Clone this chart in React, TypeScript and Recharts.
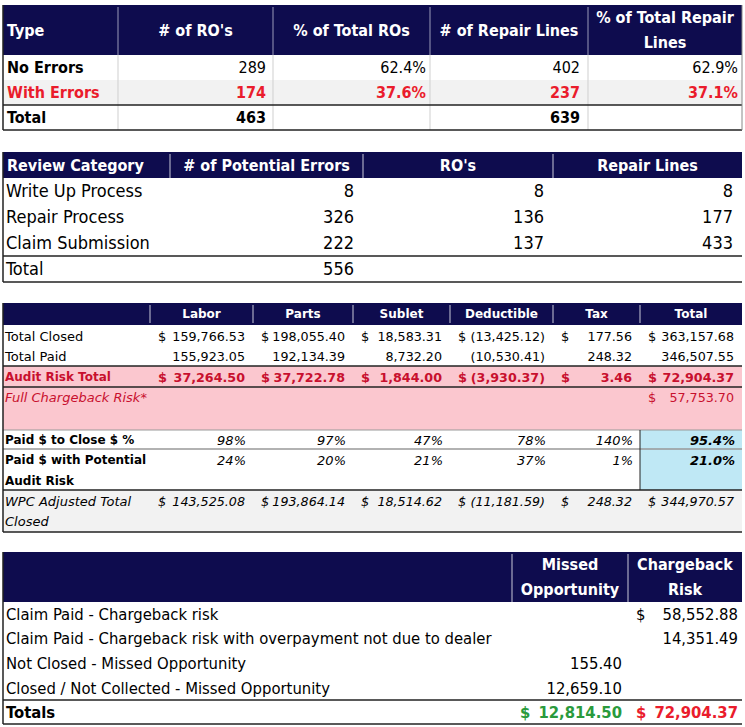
import React from 'react';
import { Surface, Text, Layer } from 'recharts';

// ---------- DATA ----------
// Table 1
const t1Headers = ['Type', "# of RO's", '% of Total ROs', '# of Repair Lines', '% of Total Repair Lines'];
const t1Types = ['No Errors', 'With Errors', 'Total'];
const t1ROs = ['289', '174', '463'];
const t1PctROs = ['62.4%', '37.6%', ''];
const t1Lines = ['402', '237', '639'];
const t1PctLines = ['62.9%', '37.1%', ''];

// Table 2
const t2Headers = ['Review Category', '# of Potential Errors', "RO's", 'Repair Lines'];
const t2Categories = ['Write Up Process', 'Repair Process', 'Claim Submission', 'Total'];
const t2PotentialErrors = ['8', '326', '222', '556'];
const t2ROs = ['8', '136', '137', ''];
const t2RepairLines = ['8', '177', '433', ''];

// Table 3
const t3Headers = ['', 'Labor', 'Parts', 'Sublet', 'Deductible', 'Tax', 'Total'];
const t3TotalClosed = [159766.53, 198055.4, 18583.31, -13425.12, 177.56, 363157.68];
const t3TotalPaid = [155923.05, 192134.39, 8732.2, -10530.41, 248.32, 346507.55];
const t3AuditRisk = [37264.5, 37722.78, 1844.0, -3930.37, 3.46, 72904.37];
const t3FullChargeback = 57753.7;
const t3PaidToClose = ['98%', '97%', '47%', '78%', '140%', '95.4%'];
const t3PaidWithRisk = ['24%', '20%', '21%', '37%', '1%', '21.0%'];
const t3WpcAdjusted = [143525.08, 193864.14, 18514.62, -11181.59, 248.32, 344970.57];

// Table 4
const t4Headers = ['', 'Missed Opportunity', 'Chargeback Risk'];
const t4Items = [
  'Claim Paid - Chargeback risk',
  'Claim Paid - Chargeback risk with overpayment not due to dealer',
  'Not Closed - Missed Opportunity',
  'Closed / Not Collected - Missed Opportunity',
];
const t4Missed = ['', '', '155.40', '12,659.10'];
const t4Chargeback = ['$ 58,552.88', '14,351.49', '', ''];
const t4TotalMissed = 12814.5;
const t4TotalChargeback = 72904.37;

// ---------- STYLE ----------
const NAVY = '#0e0c4e';
const RED1 = '#ea1c2c';
const RED3 = '#c8102e';
const PINK = '#fbc7cf';
const BLUE = '#bfe8f5';
const GRAY = '#f2f2f2';
const GREEN = '#2a9a3c';
const LINE = '#222';
const LIGHT = '#cfcfcf';
const FC = "'DejaVu Sans Condensed', 'DejaVu Sans', sans-serif";
const FW = "'DejaVu Sans', sans-serif";

const fmtMoney = (n: number) => {
  const s = Math.abs(n).toLocaleString('en-US', { minimumFractionDigits: 2, maximumFractionDigits: 2 });
  return n < 0 ? `(${s})` : s;
};

type LblProps = {
  x: number; y: number; lines: string[]; anchor?: 'start' | 'middle' | 'end';
  size?: number; bold?: boolean; italic?: boolean; color?: string; family?: string; lh?: number;
};
const Lbl = ({ x, y, lines, anchor = 'start', size = 16, bold = false, italic = false, color = '#000', family = FC, lh = 25 }: LblProps) => (
  <Layer>
    {lines.map((l, i) => (
      <Text
        key={i}
        x={x}
        y={y + (i - (lines.length - 1) / 2) * lh}
        textAnchor={anchor}
        verticalAnchor="middle"
        fontSize={size}
        fontWeight={bold ? 'bold' : 'normal'}
        fontStyle={italic ? 'italic' : 'normal'}
        fill={color}
        fontFamily={family}
      >
        {l}
      </Text>
    ))}
  </Layer>
);

const HLine = ({ x1, x2, y, color = LINE, w = 1.5 }: any) => (
  <line x1={x1} x2={x2} y1={y} y2={y} stroke={color} strokeWidth={w} />
);
const VLine = ({ x, y1, y2, color = LINE, w = 1 }: any) => (
  <line x1={x} x2={x} y1={y1} y2={y2} stroke={color} strokeWidth={w} />
);

// ---------- TABLE 1 ----------
const Table1 = () => {
  const X = [3, 118, 273, 430, 588, 742];
  const top = 5, hb = 55;
  const R = [55, 80, 105, 130];
  const cols = [t1ROs, t1PctROs, t1Lines, t1PctLines];
  const pads = [7, 4, 8, 4];
  return (
    <Layer>
      <rect x={X[0]} y={top} width={X[5] - X[0]} height={hb - top} fill={NAVY} />
      <rect x={X[0]} y={R[1]} width={X[5] - X[0]} height={R[2] - R[1]} fill={GRAY} />
      {X.slice(1, 5).map((x, i) => <VLine key={'h' + i} x={x} y1={top + 2} y2={hb} color="#9a9ab8" />)}
      {X.slice(1, 5).map((x, i) => <VLine key={'b' + i} x={x} y1={hb} y2={R[3]} color={LIGHT} />)}
      <Lbl x={X[0] + 4} y={30} lines={[t1Headers[0]]} bold color="#fff" />
      <Lbl x={(X[1] + X[2]) / 2} y={30} lines={[t1Headers[1]]} anchor="middle" bold color="#fff" />
      <Lbl x={(X[2] + X[3]) / 2} y={30} lines={[t1Headers[2]]} anchor="middle" bold color="#fff" />
      <Lbl x={(X[3] + X[4]) / 2} y={30} lines={[t1Headers[3]]} anchor="middle" bold color="#fff" />
      <Lbl x={(X[4] + X[5]) / 2} y={30} lines={['% of Total Repair', 'Lines']} anchor="middle" bold color="#fff" />
      {t1Types.map((t, r) => {
        const yc = (R[r] + R[r + 1]) / 2;
        const red = r === 1;
        const boldVals = r > 0;
        return (
          <Layer key={t}>
            <Lbl x={X[0] + 4} y={yc} lines={[t]} bold color={red ? RED1 : '#000'} />
            {cols.map((c, ci) => (
              <Lbl key={ci} x={X[ci + 2] - pads[ci]} y={yc} lines={[c[r]]} anchor="end" bold={boldVals} color={red ? RED1 : '#000'} />
            ))}
          </Layer>
        );
      })}
      <HLine x1={X[0]} x2={X[5]} y={R[2]} w={1.5} />
      <HLine x1={X[0]} x2={X[5]} y={R[3]} w={1.5} />
      <VLine x={X[0]} y1={top} y2={R[3]} w={1.5} />
      <VLine x={X[5]} y1={top} y2={R[3]} color="#888" />
    </Layer>
  );
};

// ---------- TABLE 2 ----------
const Table2 = () => {
  const X = [3, 170, 363, 553, 742];
  const top = 152, hb = 178;
  const R = [178, 204, 230, 256, 282];
  const cols = [t2PotentialErrors, t2ROs, t2RepairLines];
  return (
    <Layer>
      <rect x={X[0]} y={top} width={X[4] - X[0]} height={hb - top} fill={NAVY} />
      {X.slice(1, 4).map((x, i) => <VLine key={i} x={x} y1={top + 2} y2={hb} color="#c8c8d8" />)}
      <Lbl x={X[0] + 4} y={165} lines={[t2Headers[0]]} bold color="#fff" />
      {[1, 2, 3].map((i) => (
        <Lbl key={i} x={(X[i] + X[i + 1]) / 2} y={165} lines={[t2Headers[i]]} anchor="middle" bold color="#fff" />
      ))}
      {t2Categories.map((c, r) => {
        const yc = (R[r] + R[r + 1]) / 2;
        return (
          <Layer key={c}>
            <Lbl x={X[0] + 3} y={yc} lines={[c]} size={18} />
            {cols.map((col, ci) => (
              <Lbl key={ci} x={X[ci + 2] - 9} y={yc} lines={[col[r]]} anchor="end" size={18} />
            ))}
          </Layer>
        );
      })}
      <HLine x1={X[0]} x2={X[4]} y={R[3]} w={1.5} />
      <HLine x1={X[0]} x2={X[4]} y={R[4]} w={1.5} />
      <VLine x={X[0]} y1={top} y2={R[4]} w={1.5} />
    </Layer>
  );
};

// ---------- TABLE 3 ----------
const Table3 = () => {
  const X = [3, 150, 253, 353, 450, 553, 640, 742];
  const top = 303, hb = 325;
  const yTC = 336, yTP = 356, yAR = 377, yFC = 397, yPC = 440, yPR = 460, yW = 501;
  const moneyRow = (vals: number[], y: number, opts: { dollar: boolean; bold?: boolean; italic?: boolean; color?: string }) =>
    vals.map((v, i) => (
      <Layer key={i}>
        {opts.dollar && (
          <Lbl x={X[i + 1] + 8} y={y} lines={['$']} size={13} bold={opts.bold} italic={opts.italic} color={opts.color} family={FW} />
        )}
        <Lbl x={X[i + 2] - 8} y={y} lines={[fmtMoney(v)]} anchor="end" size={12.7} bold={opts.bold} italic={opts.italic} color={opts.color} family={FW} />
      </Layer>
    ));
  return (
    <Layer>
      <rect x={X[0]} y={top} width={X[7] - X[0]} height={hb - top} fill={NAVY} />
      <rect x={X[0]} y={366} width={X[7] - X[0]} height={430 - 366} fill={PINK} />
      <rect x={X[6]} y={430} width={X[7] - X[6]} height={490 - 430} fill={BLUE} />
      <rect x={X[0]} y={490} width={X[7] - X[0]} height={532 - 490} fill={GRAY} />
      {X.slice(1, 7).map((x, i) => <VLine key={i} x={x} y1={top + 2} y2={hb - 2} color="#c8c8d8" />)}
      {t3Headers.slice(1).map((h, i) => (
        <Lbl key={h} x={(X[i + 1] + X[i + 2]) / 2} y={314} lines={[h]} anchor="middle" size={12} bold color="#fff" family={FW} />
      ))}
      <Lbl x={X[0] + 2} y={yTC} lines={['Total Closed']} size={13} family={FW} />
      {moneyRow(t3TotalClosed, yTC, { dollar: true })}
      <Lbl x={X[0] + 2} y={yTP} lines={['Total Paid']} size={13} family={FW} />
      {moneyRow(t3TotalPaid, yTP, { dollar: false })}
      <Lbl x={X[0] + 2} y={yAR} lines={['Audit Risk Total']} size={12} bold color={RED3} family={FW} />
      {moneyRow(t3AuditRisk, yAR, { dollar: true, bold: true, color: RED3 })}
      <Lbl x={X[0] + 2} y={yFC} lines={['Full Chargeback Risk*']} size={13} italic color={RED3} family={FW} />
      <Lbl x={X[6] + 8} y={yFC} lines={['$']} size={13} color={RED3} family={FW} />
      <Lbl x={X[7] - 8} y={yFC} lines={[fmtMoney(t3FullChargeback)]} anchor="end" size={12.7} color={RED3} family={FW} />
      <Lbl x={X[0] + 2} y={yPC} lines={['Paid $ to Close $ %']} size={12} bold family={FW} />
      {t3PaidToClose.map((p, i) => (
        <Lbl key={i} x={X[i + 2] - 7} y={yPC} lines={[p]} anchor="end" size={13} italic bold={i === 5} family={FW} />
      ))}
      <Lbl x={X[0] + 2} y={yPR + 10.5} lines={['Paid $ with Potential', 'Audit Risk']} size={12} bold family={FW} lh={21} />
      {t3PaidWithRisk.map((p, i) => (
        <Lbl key={i} x={X[i + 2] - 7} y={yPR} lines={[p]} anchor="end" size={13} italic bold={i === 5} family={FW} />
      ))}
      <Lbl x={X[0] + 2} y={yW + 10} lines={['WPC Adjusted Total', 'Closed']} size={13} italic family={FW} lh={20} />
      {moneyRow(t3WpcAdjusted, yW, { dollar: true, italic: true })}
      <HLine x1={X[0]} x2={X[7]} y={366} w={1.5} />
      <HLine x1={X[0]} x2={X[7]} y={387} w={1.5} />
      <HLine x1={X[0]} x2={X[7]} y={430} color="#999" w={1} />
      <HLine x1={X[0]} x2={X[7]} y={449} color="#999" w={1.5} />
      <HLine x1={X[0]} x2={X[7]} y={490} w={1.5} />
      <HLine x1={X[0]} x2={X[7]} y={532} w={1.5} />
      <VLine x={X[6]} y1={430} y2={490} />
      <VLine x={X[0]} y1={top} y2={532} w={1.5} />
    </Layer>
  );
};

// ---------- TABLE 4 ----------
const Table4 = () => {
  const X = [3, 512, 628, 742];
  const top = 552, hb = 602;
  const R = [602, 626, 651, 676, 700, 724];
  const fs = 16.5;
  return (
    <Layer>
      <rect x={X[0]} y={top} width={X[3] - X[0]} height={hb - top} fill={NAVY} />
      {X.slice(1, 3).map((x, i) => <VLine key={i} x={x} y1={top + 2} y2={hb} color="#c8c8d8" />)}
      <Lbl x={(X[1] + X[2]) / 2} y={577} lines={['Missed', 'Opportunity']} anchor="middle" bold color="#fff" />
      <Lbl x={(X[2] + X[3]) / 2} y={577} lines={['Chargeback', 'Risk']} anchor="middle" bold color="#fff" />
      {t4Items.map((it, r) => {
        const yc = (R[r] + R[r + 1]) / 2;
        const cb = t4Chargeback[r];
        const cbDollar = cb.startsWith('$');
        return (
          <Layer key={it}>
            <Lbl x={X[0] + 3} y={yc} lines={[it]} size={fs} />
            <Lbl x={X[2] - 6} y={yc} lines={[t4Missed[r]]} anchor="end" size={fs} />
            {cbDollar && <Lbl x={X[2] + 8} y={yc} lines={['$']} size={fs} />}
            <Lbl x={X[3] - 4} y={yc} lines={[cbDollar ? cb.slice(2) : cb]} anchor="end" size={fs} />
          </Layer>
        );
      })}
      <Lbl x={X[0] + 3} y={712} lines={['Totals']} bold size={fs} />
      <Lbl x={X[1] + 8} y={712} lines={['$']} bold size={fs} color={GREEN} />
      <Lbl x={X[2] - 6} y={712} lines={[fmtMoney(t4TotalMissed)]} anchor="end" bold size={fs} color={GREEN} />
      <Lbl x={X[2] + 8} y={712} lines={['$']} bold size={fs} color={RED1} />
      <Lbl x={X[3] - 4} y={712} lines={[fmtMoney(t4TotalChargeback)]} anchor="end" bold size={fs} color={RED1} />
      <HLine x1={X[0]} x2={X[3]} y={700} w={1.5} />
      <HLine x1={X[0]} x2={X[3]} y={724} w={1.5} />
      <VLine x={X[0]} y1={top} y2={724} w={1.5} />
    </Layer>
  );
};

export default function App() {
  return (
    <div style={{ position: 'absolute', left: 0, top: 0, width: 745, height: 727, background: '#fff' }}>
      <Surface width={745} height={727} viewBox={{ x: 0, y: 0, width: 745, height: 727 }}>
        <rect x={0} y={0} width={745} height={727} fill="#fff" />
        <Table1 />
        <Table2 />
        <Table3 />
        <Table4 />
      </Surface>
    </div>
  );
}
